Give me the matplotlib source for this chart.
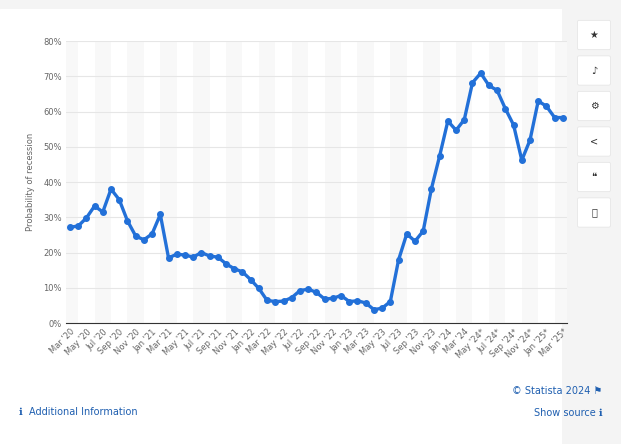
import matplotlib
matplotlib.use("Agg")
import matplotlib.pyplot as plt
from matplotlib.patches import FancyBboxPatch

values = [27.2, 27.5, 29.8, 33.2, 31.5, 38.0, 35.0, 29.0, 24.7, 23.6, 25.3, 30.8,
          18.5, 19.5, 19.3, 18.7, 20.0, 19.0, 18.7, 16.8, 15.4, 14.5, 12.3, 9.8,
          6.4, 6.1, 6.2, 7.2, 9.2, 9.6, 8.7, 6.8, 7.0, 7.8, 6.1, 6.3, 5.7, 3.8,
          4.2, 6.1, 17.9, 25.3, 23.2, 26.1, 38.1, 47.4, 57.3, 54.7, 57.7, 68.2,
          70.9, 67.4, 66.0, 60.8, 56.2, 46.2, 51.9, 63.0, 61.5, 58.3, 58.3]
tick_labels = ["Mar '20", "May '20", "Jul '20", "Sep '20", "Nov '20", "Jan '21", "Mar '21",
               "May '21", "Jul '21", "Sep '21", "Nov '21", "Jan '22", "Mar '22", "May '22",
               "Jul '22", "Sep '22", "Nov '22", "Jan '23", "Mar '23", "May '23", "Jul '23",
               "Sep '23", "Nov '23", "Jan '24", "Mar '24", "May '24*", "Jul '24*",
               "Sep '24*", "Nov '24*", "Jan '25*", "Mar '25*"]
y_ticks = [0, 10, 20, 30, 40, 50, 60, 70, 80]

fig = plt.figure(figsize=(6.21, 4.44), dpi=100)
fig.patch.set_facecolor("#f4f4f4")
bg = fig.add_axes([0.0, 0.0, 0.905, 0.98])
bg.set_axis_off()
bg.add_patch(plt.Rectangle((0, 0), 1, 1, color="white", transform=bg.transAxes))

ax = fig.add_axes([0.106, 0.2725, 0.807, 0.635])
n = len(values)
x = list(range(n))
for i in range(0, n, 2):
    if (i // 2) % 2 == 0:
        ax.axvspan(i - 1, i + 1, color="#f8f8f8", lw=0, zorder=0)
ax.set_xlim(-0.5, n - 0.5)
ax.set_ylim(0, 80)
ax.set_yticks(y_ticks)
ax.set_yticklabels([f"{v}%" for v in y_ticks], fontsize=6, color="#666666")
ax.set_xticks(x[::2])
ax.set_xticklabels(tick_labels, rotation=45, ha="right", rotation_mode="anchor",
                   fontsize=6, color="#666666")
ax.grid(axis="y", color="#e6e6e6", lw=0.8)
ax.set_axisbelow(True)
for s in ["top", "right", "left"]:
    ax.spines[s].set_visible(False)
ax.spines["bottom"].set_color("#333333")
ax.tick_params(length=0, pad=3)
ax.set_ylabel("Probability of recession", fontsize=6, color="#666666", labelpad=6)
ax.plot(x, values, color="#2270d8", lw=2.4, marker="o", ms=4, zorder=3, clip_on=False)

fig.text(0.97, 0.113, "© Statista 2024 ⚑", ha="right", fontsize=7, color="#1f5fb0")
fig.text(0.03, 0.066, "ℹ  Additional Information", ha="left", fontsize=7, color="#1f5fb0")
fig.text(0.97, 0.063, "Show source ℹ", ha="right", fontsize=7, color="#1f5fb0")

icons = ["★", "♪", "⚙", "<", "❝", "⎙"]
for k, ic in enumerate(icons):
    yc = 1 - (35 + k * 35.5) / 444
    fig.patches.append(FancyBboxPatch((0.933, yc - 0.03), 0.047, 0.06,
                                      boxstyle="round,pad=0.003", transform=fig.transFigure,
                                      fc="white", ec="#e6e6e6", lw=0.6))
    fig.text(0.9565, yc, ic, ha="center", va="center", fontsize=7, color="#333333")

fig.savefig("out.png", dpi=100)
